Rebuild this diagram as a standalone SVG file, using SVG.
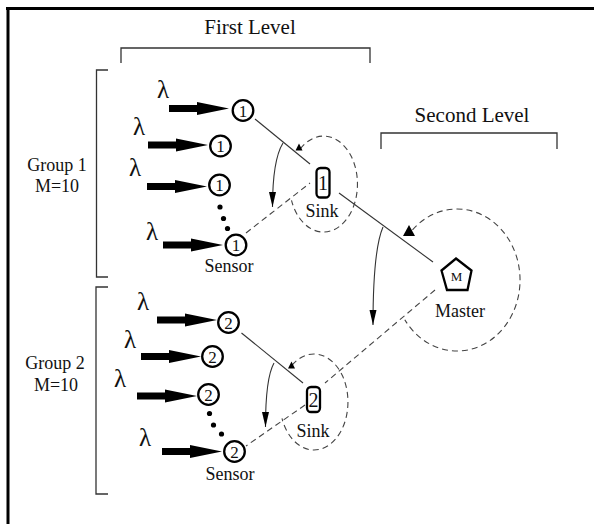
<svg xmlns="http://www.w3.org/2000/svg" width="594" height="524" viewBox="0 0 594 524">
<style>
.t{font-family:'Liberation Serif',serif;fill:#111}
.lbl{font-size:18px;text-anchor:middle}
.lvl{font-size:21px;text-anchor:middle}
.lam{font-size:25px;text-anchor:middle}
.dig{font-size:17px;text-anchor:middle}
.sd{font-size:20px;text-anchor:middle}
.node{fill:#fff;stroke:#000;stroke-width:2.3}
.br{fill:none;stroke:#333;stroke-width:1.3}
.thin{fill:none;stroke:#333;stroke-width:1.1}
.dash{fill:none;stroke:#444;stroke-width:1.1;stroke-dasharray:6 4}
.tri{fill:#000}
.dot{fill:#000}
.ia{fill:#000}
</style>
<defs>
<path id="ia" d="M0,-3.5 H28 V-6.5 L60,0 L28,6.5 V3.5 H0 Z"/>
<marker id="ah" markerUnits="userSpaceOnUse" markerWidth="16" markerHeight="8" refX="15" refY="3.5" orient="auto">
<path d="M0,0 L15,3.5 L0,7 Z" fill="#000"/>
</marker>
</defs>

<g id="frame">
<line x1="6" y1="8.5" x2="594" y2="8.5" stroke="#000" stroke-width="3"/>
<line x1="8" y1="7" x2="8" y2="524" stroke="#000" stroke-width="3"/>
</g>

<g id="labels">
<text class="t lvl" x="250" y="34">First Level</text>
<path class="br" d="M121,63 V48 H370 V63"/>
<text class="t lvl" x="472" y="122">Second Level</text>
<path class="br" d="M381,149 V133 H557 V149"/>
<path class="br" d="M108,70 H96.5 V277 H108"/>
<text class="t lbl" x="57" y="171">Group 1</text>
<text class="t lbl" x="57" y="192">M=10</text>
<path class="br" d="M108,287 H96 V494 H108"/>
<text class="t lbl" x="55" y="369">Group 2</text>
<text class="t lbl" x="56" y="391">M=10</text>
</g>

<g id="connectors">
<line class="thin" x1="255" y1="119" x2="310" y2="164"/>
<line class="thin" x1="339" y1="193" x2="433" y2="262"/>
<line class="thin" x1="241.5" y1="333" x2="303" y2="383"/>
<line class="dash" x1="246" y1="233" x2="310" y2="183"/>
<line class="dash" x1="435" y1="290" x2="325" y2="383"/>
<line class="dash" x1="305" y1="405" x2="246" y2="446"/>
<path class="dash" d="M300.3,148.9 A34,48 0 1 1 291.5,200.4"/>
<path class="dash" d="M412.5,229.8 A63,71 0 1 1 404.8,319.7"/>
<path class="dash" d="M292.1,365.2 A34,48 0 1 1 282,418.4"/>
<polygon class="tri" points="299,143.5 295.5,150.5 302.5,150.5"/>
<polygon class="tri" points="409,225 403,236 415,236"/>
<polygon class="tri" points="291.5,361.5 288,368.5 295,368.5"/>
<path class="thin" d="M283,143 Q272.5,160 272.5,207" marker-end="url(#ah)"/>
<path class="thin" d="M383,227 Q373,250 373,325" marker-end="url(#ah)"/>
<path class="thin" d="M274,363 Q265.5,378 265.5,427" marker-end="url(#ah)"/>
<use href="#ia" class="ia" x="169" y="108.5"/>
<use href="#ia" class="ia" x="148" y="145"/>
<use href="#ia" class="ia" x="147" y="186.5"/>
<use href="#ia" class="ia" x="163" y="245"/>
<use href="#ia" class="ia" x="157" y="320"/>
<use href="#ia" class="ia" x="141" y="356.5"/>
<use href="#ia" class="ia" x="137" y="396"/>
<use href="#ia" class="ia" x="162" y="451.5"/>
</g>

<g id="lambdas">
<text class="t lam" x="163" y="98">λ</text>
<text class="t lam" x="139" y="135">λ</text>
<text class="t lam" x="135" y="176">λ</text>
<text class="t lam" x="152" y="240">λ</text>
<text class="t lam" x="143" y="310">λ</text>
<text class="t lam" x="130" y="348">λ</text>
<text class="t lam" x="120" y="387">λ</text>
<text class="t lam" x="145" y="446">λ</text>
</g>

<g id="sensor-1a"><circle class="node" cx="243" cy="110.5" r="10.3"/><text class="t dig" x="243" y="116.5">1</text></g>
<g id="sensor-1b"><circle class="node" cx="220.5" cy="146" r="10.3"/><text class="t dig" x="220.5" y="152">1</text></g>
<g id="sensor-1c"><circle class="node" cx="219.5" cy="185" r="10.3"/><text class="t dig" x="219.5" y="191">1</text></g>
<g id="sensor-1d"><circle class="node" cx="236" cy="245" r="10.3"/><text class="t dig" x="236" y="251">1</text><text class="t lbl" x="229" y="272">Sensor</text></g>
<g id="dots-1"><circle class="dot" cx="220" cy="207" r="2.6"/><circle class="dot" cx="223.5" cy="218.5" r="2.6"/><circle class="dot" cx="227.5" cy="228.5" r="2.6"/></g>

<g id="sensor-2a"><circle class="node" cx="228.5" cy="322.5" r="10.3"/><text class="t dig" x="228.5" y="328.5">2</text></g>
<g id="sensor-2b"><circle class="node" cx="212.5" cy="356.5" r="10.3"/><text class="t dig" x="212.5" y="362.5">2</text></g>
<g id="sensor-2c"><circle class="node" cx="208.5" cy="394.5" r="10.3"/><text class="t dig" x="208.5" y="400.5">2</text></g>
<g id="sensor-2d"><circle class="node" cx="234.5" cy="451.5" r="10.3"/><text class="t dig" x="234.5" y="457.5">2</text><text class="t lbl" x="230" y="480">Sensor</text></g>
<g id="dots-2"><circle class="dot" cx="209.5" cy="413.5" r="2.6"/><circle class="dot" cx="213.5" cy="425" r="2.6"/><circle class="dot" cx="221.5" cy="434" r="2.6"/></g>

<g id="sink-1"><rect class="node" x="316.5" y="168" width="13" height="29.5" rx="4"/><text class="t sd" x="323" y="190">1</text><text class="t lbl" x="322" y="217">Sink</text></g>
<g id="sink-2"><rect class="node" x="307" y="387" width="13" height="25" rx="4"/><text class="t sd" x="313.5" y="406.5">2</text><text class="t lbl" x="313" y="437">Sink</text></g>
<g id="master"><polygon class="node" points="456,258.5 471.5,270.5 467.5,290 447,290 441.5,270.5" stroke-width="2.6"/><text class="t" x="456.5" y="281" style="font-size:13px;text-anchor:middle">M</text><text class="t lbl" x="460" y="317">Master</text></g>
</svg>
